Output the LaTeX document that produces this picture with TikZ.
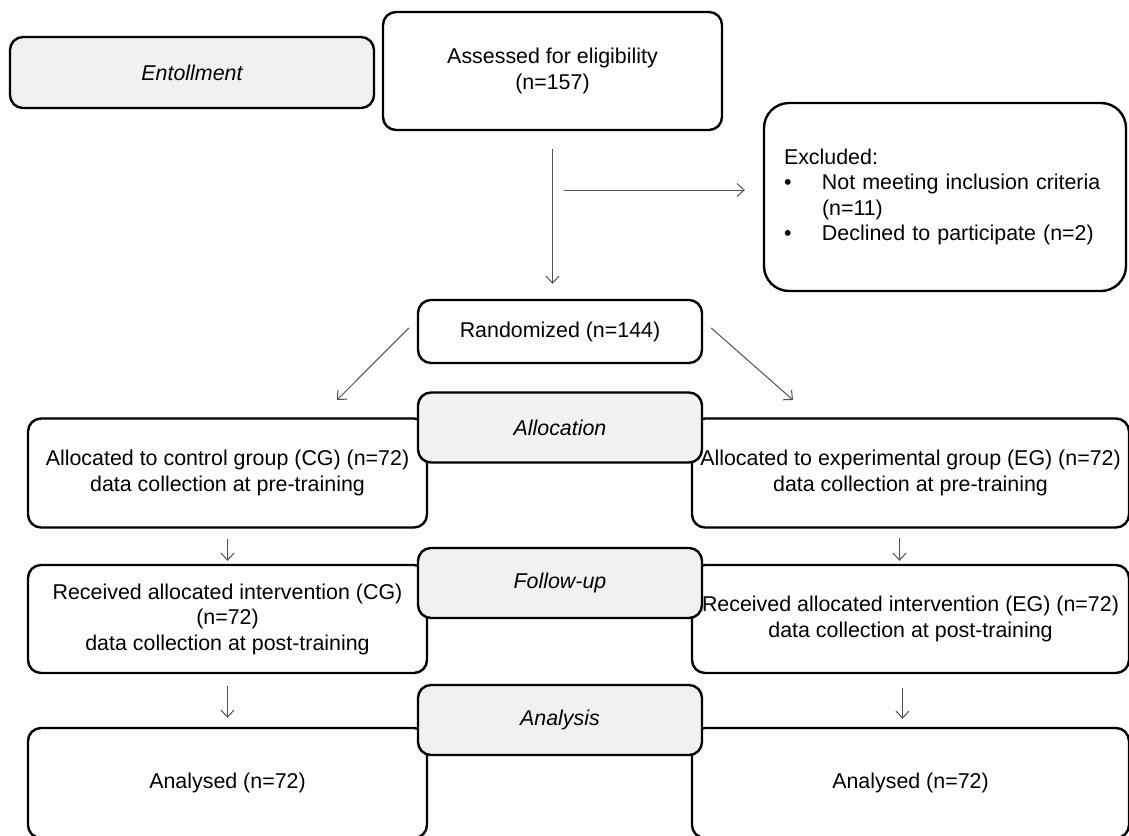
\documentclass[tikz,border=0pt]{standalone}
\usepackage{fontspec}
\setmainfont{Liberation Sans}
\usetikzlibrary{arrows.meta}
\definecolor{phasegray}{RGB}{241,241,241}
\definecolor{arrowgray}{RGB}{80,80,80}

\begin{document}
\begin{tikzpicture}[
    x=1pt, y=-1pt,
    font=\fontsize{21.4}{25.5}\selectfont,
    box/.style={draw, line width=2.4pt, rounded corners=13pt, align=center, inner sep=0pt},
    phase/.style={box, fill=phasegray, minimum width=284pt, minimum height=70pt, font=\fontsize{21.4}{25.5}\selectfont\itshape},
    grp/.style={box, fill=white, minimum height=109pt},
    arr/.style={-{Straight Barb[length=7pt,width=13pt]}, draw=arrowgray, line width=1pt}
]
  \useasboundingbox (0,0) rectangle (1129,835);

  %--- enrollment ---
  \node[phase, minimum width=364pt, minimum height=71pt] (entoll) at (192,72.5) {Entollment};
  \node[box, minimum width=339pt, minimum height=118pt] (assess) at (552.5,71) {Assessed for eligibility\\(n=157)};
  \node[box, rounded corners=25pt, minimum width=362pt, minimum height=188pt, text width=322pt, align=left] (excl) at (945,197)
    {Excluded:\\\makebox[38pt][l]{•}Not meeting inclusion criteria\\\hspace*{38pt}(n=11)\\\makebox[38pt][l]{•}Declined to participate (n=2)};
  \node[box, minimum width=284pt, minimum height=63pt] (rand) at (560,331.5) {Randomized (n=144)};

  %--- groups ---
  \node[grp, minimum width=399pt] (cgpre) at (227.5,473) {Allocated to control group (CG) (n=72)\\data collection at pre-training};
  \node[grp, minimum width=437pt] (egpre) at (910.5,473) {Allocated to experimental group (EG) (n=72)\\data collection at pre-training};
  \node[grp, minimum width=399pt, minimum height=108pt] (cgpost) at (227.5,619) {Received allocated intervention (CG)\\(n=72)\\data collection at post-training};
  \node[grp, minimum width=437pt, minimum height=108pt] (egpost) at (910.5,619) {Received allocated intervention (EG) (n=72)\\data collection at post-training};
  \node[grp, minimum width=399pt, minimum height=110pt] (cgana) at (227.5,783) {Analysed (n=72)};
  \node[grp, minimum width=437pt, minimum height=110pt] (egana) at (910.5,783) {Analysed (n=72)};

  %--- phase labels ---
  \node[phase] (alloc) at (560,427.5) {Allocation};
  \node[phase] (follow) at (560,583) {Follow-up};
  \node[phase] (analysis) at (560,720) {Analysis};

  %--- arrows ---
  \coordinate (split) at (552.5,190);
  \coordinate (cgin) at (337,400);
  \coordinate (egin) at (793,400);
  \draw[arr, shorten <=18pt, shorten >=15pt] (assess.south) -- (assess.south |- rand.north);
  \draw[arr, shorten <=11pt, shorten >=18pt] (split) -- (split -| excl.west);
  \draw[arr] (rand.west) ++(-8,-3.5) -- (cgin);
  \draw[arr] (rand.east) ++(8,-3.5) -- (egin);
  \draw[arr, shorten <=10pt, shorten >=3pt] (cgpre) -- (cgpost);
  \draw[arr, shorten <=9pt, shorten >=3pt] ([xshift=-11pt]egpre.south) -- ([xshift=-11pt]egpost.north);
  \draw[arr, shorten <=12pt, shorten >=9pt] (cgpost) -- (cgana);
  \draw[arr, shorten <=14pt, shorten >=8pt] ([xshift=-8pt]egpost.south) -- ([xshift=-8pt]egana.north);
\end{tikzpicture}
\end{document}
